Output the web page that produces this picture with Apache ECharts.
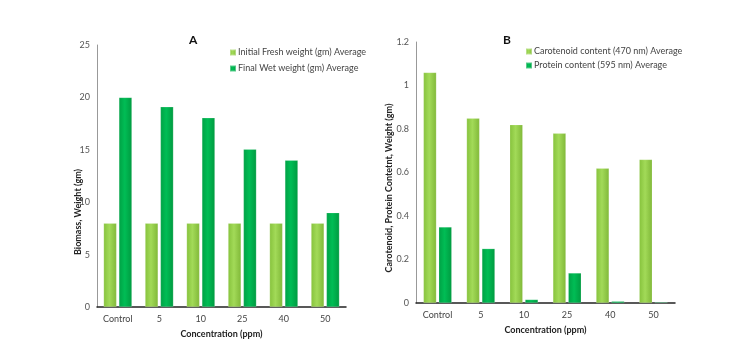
<!DOCTYPE html>
<html>
<head>
<meta charset="utf-8">
<script src="https://cdn.jsdelivr.net/npm/echarts@6/dist/echarts.min.js"></script>
<style>
  html, body { margin: 0; padding: 0; background: #fff; }
  #chart { width: 754px; height: 352px; }
</style>
</head>
<body>
<div id="chart"></div>
<script>
// concentration categories (shared by both panels)
const categories = ['Control', '5', '10', '25', '40', '50']

// panel A: biomass
const initialFresh = [8, 8, 8, 8, 8, 8]
const finalWet = [20, 19.1, 18.05, 15.05, 14, 9]

// panel B: carotenoid / protein
const carotenoid = [1.06, 0.85, 0.82, 0.78, 0.62, 0.66]
const protein = [0.35, 0.25, 0.016, 0.138, 0.008, 0.004]

const font = 'Lato'
const lightGreen = {
  type: 'linear', x: 0, y: 0, x2: 1, y2: 0,
  colorStops: [
    { offset: 0, color: '#86c23c' },
    { offset: 0.45, color: '#a2da58' },
    { offset: 1, color: '#80b838' }
  ]
}
const darkGreen = {
  type: 'linear', x: 0, y: 0, x2: 1, y2: 0,
  colorStops: [
    { offset: 0, color: '#00a145' },
    { offset: 0.45, color: '#00bd55' },
    { offset: 1, color: '#009a40' }
  ]
}

const chart = echarts.init(document.getElementById('chart'))

function xAxis(gridIndex) {
  return {
    type: 'category',
    gridIndex: gridIndex,
    data: categories,
    axisTick: { show: false },
    axisLine: { lineStyle: { color: '#222', width: 1.5 } },
    axisLabel: { fontFamily: font, fontSize: 9, color: '#444', margin: 8 },
    name: 'Concentration (ppm)',
    nameLocation: 'middle',
    nameGap: 23,
    nameTextStyle: { fontFamily: font, fontSize: 9, fontWeight: 'bold', color: '#222' }
  }
}

function yAxis(gridIndex, max, interval) {
  return {
    type: 'value',
    gridIndex: gridIndex,
    min: 0,
    max: max,
    interval: interval,
    splitLine: { show: false },
    axisTick: { show: false },
    axisLine: { show: true, lineStyle: { color: '#999' } },
    axisLabel: { fontFamily: font, fontSize: 9, color: '#555', margin: 7 }
  }
}

function bars(name, data, color, idx) {
  return {
    name: name,
    type: 'bar',
    xAxisIndex: idx,
    yAxisIndex: idx,
    data: data,
    barWidth: 13,
    barGap: '18%',
    itemStyle: { color: color, borderColor: 'rgba(255,255,255,0.35)', borderWidth: 0.5 }
  }
}

chart.setOption({
  animation: false,
  title: [
    { text: 'A', left: 184, top: 29, textStyle: { fontFamily: font, fontSize: 12, fontWeight: 'bold', color: '#111' } },
    { text: 'B', left: 498, top: 29, textStyle: { fontFamily: font, fontSize: 12, fontWeight: 'bold', color: '#111' } }
  ],
  legend: [
    {
      data: ['Initial Fresh weight (gm) Average', 'Final Wet weight (gm) Average'],
      orient: 'vertical', left: 224, top: 43, itemGap: 7,
      itemWidth: 6, itemHeight: 6, icon: 'rect',
      textStyle: { fontFamily: font, fontSize: 9, color: '#444', padding: [0, 0, 0, -3] }
    },
    {
      data: ['Carotenoid content (470 nm) Average', 'Protein content (595 nm) Average'],
      orient: 'vertical', left: 520, top: 42, itemGap: 5,
      itemWidth: 6, itemHeight: 6, icon: 'rect',
      textStyle: { fontFamily: font, fontSize: 9, color: '#444', padding: [0, 0, 0, -3] }
    }
  ],
  grid: [
    { left: 97, right: 408, top: 45, bottom: 45 },
    { left: 416, right: 79, top: 42, bottom: 49 }
  ],
  xAxis: [xAxis(0), xAxis(1)],
  yAxis: [yAxis(0, 25, 5), yAxis(1, 1.2, 0.2)],
  series: [
    bars('Initial Fresh weight (gm) Average', initialFresh, lightGreen, 0),
    bars('Final Wet weight (gm) Average', finalWet, darkGreen, 0),
    bars('Carotenoid content (470 nm) Average', carotenoid, lightGreen, 1),
    bars('Protein content (595 nm) Average', protein, darkGreen, 1)
  ],
  graphic: [
    {
      type: 'text', x: 78, y: 212, rotation: Math.PI / 2,
      style: {
        text: 'Biomass, Weight (gm)', fontFamily: font, fontSize: 9, fontWeight: 'bold',
        fill: '#222', align: 'center', verticalAlign: 'middle'
      }
    },
    {
      type: 'text', x: 389, y: 188, rotation: Math.PI / 2,
      style: {
        text: 'Carotenoid, Protein Contetnt, Weight (gm)', fontFamily: font, fontSize: 9, fontWeight: 'bold',
        fill: '#222', align: 'center', verticalAlign: 'middle'
      }
    }
  ]
})
</script>
</body>
</html>
